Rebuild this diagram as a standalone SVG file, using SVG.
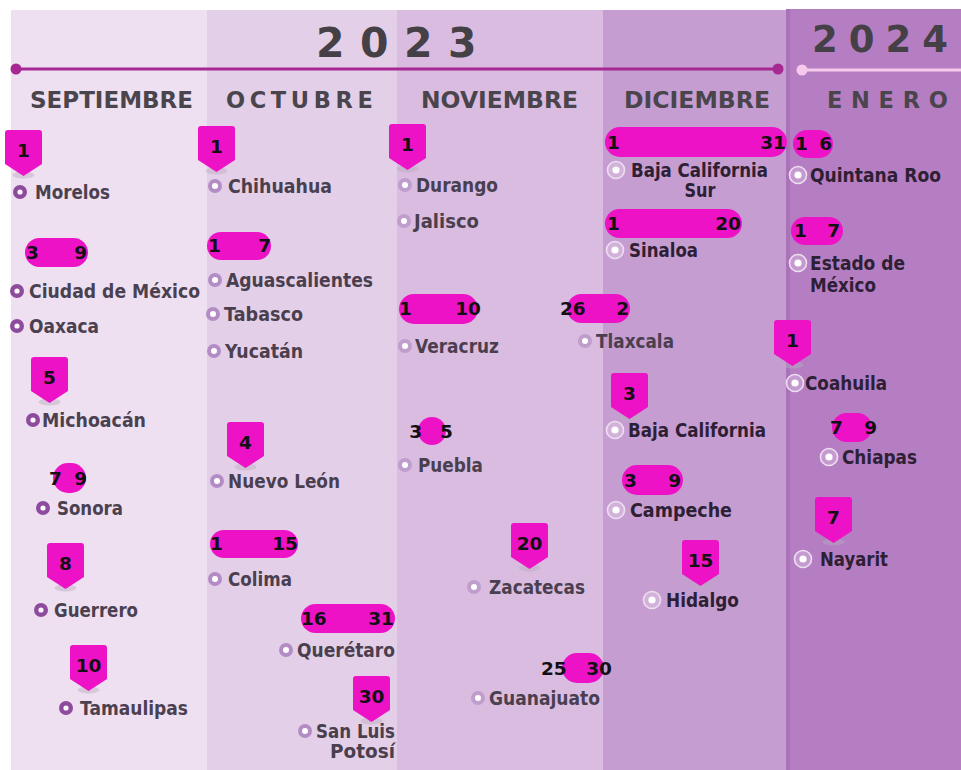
<svg xmlns="http://www.w3.org/2000/svg" xmlns:xlink="http://www.w3.org/1999/xlink" width="961" height="770" viewBox="0 0 961 770">
<style>
.num{font-family:"DejaVu Sans","Liberation Sans",sans-serif;font-weight:700;font-size:18.5px;fill:#121014}
.lbl{font-family:"DejaVu Sans","Liberation Sans",sans-serif;font-weight:700;font-size:19px}
.t1{fill:#4b4050}
.t2{fill:#4a3f4f}
.t3{fill:#2e2034}
.month{font-family:"DejaVu Sans","Liberation Sans",sans-serif;font-weight:700;font-size:22.5px;fill:#4a454c}
.year{font-family:"DejaVu Sans","Liberation Sans",sans-serif;font-weight:700;fill:#444046}
.pk{fill:#ee12c6}
</style>
<defs>
<g id="pin">
<ellipse cx="18.5" cy="45" rx="11" ry="3.5" fill="#b9abbf" opacity="0.45"/>
<path class="pk" d="M0,3 Q0,0 3,0 H34 Q37,0 37,3 V34 L18.5,46 L0,34 Z"/>
</g>
<circle id="ring1" r="4.8" fill="#fbf6fc" stroke="#8d4b9d" stroke-width="4.4"/>
<circle id="ring2" r="5" fill="#ffffff" stroke="#b48cc5" stroke-width="4"/>
<circle id="ring2b" r="5" fill="#ffffff" stroke="#bf9dcc" stroke-width="4"/>
<g id="ring3">
<circle r="8.5" fill="#ffffff" fill-opacity="0.22" stroke="#ecdff0" stroke-width="1.6"/>
<circle r="3.6" fill="#ffffff"/>
</g>
</defs>

<g id="background">
<rect x="0" y="0" width="961" height="770" fill="#ffffff"/>
<rect x="11" y="10" width="197" height="760" fill="#eee0f1"/>
<rect x="207" y="10" width="191" height="760" fill="#e4cfe8"/>
<rect x="397" y="10" width="207" height="760" fill="#d9bce0"/>
<rect x="603" y="10" width="186" height="760" fill="#c69dd1"/>
<rect x="788" y="9" width="173" height="761" fill="#b57ec3"/>
<rect x="786" y="9" width="4" height="761" fill="#a972b9"/>
</g>

<g id="header">
<text class="year" x="316" y="57" font-size="41">2<tspan dx="15.5">0</tspan><tspan dx="15.5">2</tspan><tspan dx="15.5">3</tspan></text>
<text class="year" x="812" y="52" font-size="37" fill="#3f3a42">2<tspan dx="11">0</tspan><tspan dx="11">2</tspan><tspan dx="11">4</tspan></text>
<text class="month" x="30" y="108" textLength="163" lengthAdjust="spacingAndGlyphs">SEPTIEMBRE</text>
<text class="month" x="226" y="108">O<tspan dx="4.6">C</tspan><tspan dx="4.6">T</tspan><tspan dx="4.6">U</tspan><tspan dx="4.6">B</tspan><tspan dx="4.6">R</tspan><tspan dx="4.6">E</tspan></text>
<text class="month" x="421" y="108" textLength="157" lengthAdjust="spacingAndGlyphs">NOVIEMBRE</text>
<text class="month" x="624" y="108" textLength="146" lengthAdjust="spacingAndGlyphs">DICIEMBRE</text>
<text class="month" x="827" y="108" fill="#2c2330">E<tspan dx="8.7">N</tspan><tspan dx="8.7">E</tspan><tspan dx="8.7">R</tspan><tspan dx="8.7">O</tspan></text>
</g>

<g id="timeline">
<line x1="16" y1="69" x2="778" y2="69" stroke="#a62892" stroke-width="3"/>
<circle cx="16" cy="69" r="5.5" fill="#a62892"/>
<circle cx="778" cy="69" r="5.5" fill="#a62892"/>
<line x1="802" y1="70" x2="961" y2="70" stroke="#f6c9ec" stroke-width="3"/>
<circle cx="802" cy="70" r="5.5" fill="#f6c9ec"/>
</g>

<!-- SEPTIEMBRE -->
<g id="n-morelos">
<use href="#pin" x="5" y="130"/><text class="num" x="23.5" y="157" text-anchor="middle">1</text>
<use href="#ring1" x="20" y="192"/><text class="lbl t1" x="35" y="199" textLength="75" lengthAdjust="spacingAndGlyphs">Morelos</text>
</g>
<g id="n-cdmx-oaxaca">
<rect class="pk" x="25" y="238" width="63" height="29" rx="14.5"/>
<text class="num" x="26" y="259">3</text><text class="num" x="87" y="259" text-anchor="end">9</text>
<use href="#ring1" x="17" y="291"/><text class="lbl t1" x="29" y="298" textLength="171" lengthAdjust="spacingAndGlyphs">Ciudad de México</text>
<use href="#ring1" x="17" y="326"/><text class="lbl t1" x="29" y="333" textLength="70" lengthAdjust="spacingAndGlyphs">Oaxaca</text>
</g>
<g id="n-michoacan">
<use href="#pin" x="31" y="357"/><text class="num" x="49.5" y="384" text-anchor="middle">5</text>
<use href="#ring1" x="33" y="420"/><text class="lbl t1" x="42" y="427" textLength="104" lengthAdjust="spacingAndGlyphs">Michoacán</text>
</g>
<g id="n-sonora">
<rect class="pk" x="53" y="463" width="33" height="30" rx="15"/>
<text class="num" x="49" y="485">7</text><text class="num" x="87" y="485" text-anchor="end">9</text>
<use href="#ring1" x="43" y="508"/><text class="lbl t1" x="57" y="515" textLength="66" lengthAdjust="spacingAndGlyphs">Sonora</text>
</g>
<g id="n-guerrero">
<use href="#pin" x="47" y="543"/><text class="num" x="65.5" y="570" text-anchor="middle">8</text>
<use href="#ring1" x="41" y="610"/><text class="lbl t1" x="54" y="617" textLength="84" lengthAdjust="spacingAndGlyphs">Guerrero</text>
</g>
<g id="n-tamaulipas">
<use href="#pin" x="70" y="645"/><text class="num" x="88.5" y="672" text-anchor="middle">10</text>
<use href="#ring1" x="66" y="708"/><text class="lbl t1" x="80" y="715" textLength="108" lengthAdjust="spacingAndGlyphs">Tamaulipas</text>
</g>

<!-- OCTUBRE -->
<g id="n-chihuahua">
<use href="#pin" x="198" y="126"/><text class="num" x="216.5" y="153" text-anchor="middle">1</text>
<use href="#ring2" x="215" y="186"/><text class="lbl t2" x="228" y="193" textLength="104" lengthAdjust="spacingAndGlyphs">Chihuahua</text>
</g>
<g id="n-ags-tab-yuc">
<rect class="pk" x="207" y="232" width="64" height="28" rx="14"/>
<text class="num" x="208" y="252">1</text><text class="num" x="271" y="252" text-anchor="end">7</text>
<use href="#ring2" x="215" y="280"/><text class="lbl t2" x="226" y="287" textLength="147" lengthAdjust="spacingAndGlyphs">Aguascalientes</text>
<use href="#ring2" x="213" y="314"/><text class="lbl t2" x="224" y="321" textLength="79" lengthAdjust="spacingAndGlyphs">Tabasco</text>
<use href="#ring2" x="214" y="351"/><text class="lbl t2" x="225" y="358" textLength="78" lengthAdjust="spacingAndGlyphs">Yucatán</text>
</g>
<g id="n-nuevoleon">
<use href="#pin" x="227" y="422"/><text class="num" x="245.5" y="449" text-anchor="middle">4</text>
<use href="#ring2" x="217" y="481"/><text class="lbl t2" x="228" y="488" textLength="112" lengthAdjust="spacingAndGlyphs">Nuevo León</text>
</g>
<g id="n-colima">
<rect class="pk" x="210" y="530" width="88" height="28" rx="14"/>
<text class="num" x="210" y="550">1</text><text class="num" x="298" y="550" text-anchor="end">15</text>
<use href="#ring2" x="215" y="579"/><text class="lbl t2" x="228" y="586" textLength="64" lengthAdjust="spacingAndGlyphs">Colima</text>
</g>
<g id="n-queretaro">
<rect class="pk" x="301" y="604" width="94" height="29" rx="14.5"/>
<text class="num" x="301" y="625">16</text><text class="num" x="394" y="625" text-anchor="end">31</text>
<use href="#ring2" x="286" y="650"/><text class="lbl t2" x="297" y="657" textLength="98" lengthAdjust="spacingAndGlyphs">Querétaro</text>
</g>
<g id="n-slp">
<use href="#pin" x="353" y="676"/><text class="num" x="371.5" y="703" text-anchor="middle">30</text>
<use href="#ring2" x="305" y="731"/>
<text class="lbl t2" x="395" y="738" text-anchor="end" textLength="79" lengthAdjust="spacingAndGlyphs">San Luis</text>
<text class="lbl t2" x="395" y="758" text-anchor="end" textLength="65" lengthAdjust="spacingAndGlyphs">Potosí</text>
</g>

<!-- NOVIEMBRE -->
<g id="n-durango-jalisco">
<use href="#pin" x="389" y="124"/><text class="num" x="407.5" y="151" text-anchor="middle">1</text>
<use href="#ring2b" x="405" y="185"/><text class="lbl t2" x="416" y="192" textLength="82" lengthAdjust="spacingAndGlyphs">Durango</text>
<use href="#ring2b" x="404" y="221"/><text class="lbl t2" x="414" y="228" textLength="65" lengthAdjust="spacingAndGlyphs">Jalisco</text>
</g>
<g id="n-veracruz">
<rect class="pk" x="399" y="294" width="79" height="30" rx="15"/>
<text class="num" x="399" y="315">1</text><text class="num" x="481" y="315" text-anchor="end">10</text>
<use href="#ring2b" x="405" y="346"/><text class="lbl t2" x="415" y="353" textLength="84" lengthAdjust="spacingAndGlyphs">Veracruz</text>
</g>
<g id="n-tlaxcala">
<rect class="pk" x="567" y="294" width="63" height="29" rx="14.5"/>
<text class="num" x="560" y="315">26</text><text class="num" x="629" y="315" text-anchor="end">2</text>
<use href="#ring2b" x="585" y="341"/><text class="lbl t2" x="596" y="348" textLength="78" lengthAdjust="spacingAndGlyphs">Tlaxcala</text>
</g>
<g id="n-puebla">
<circle class="pk" cx="432" cy="431" r="14"/>
<text class="num" x="422" y="438" text-anchor="end">3</text><text class="num" x="440" y="438">5</text>
<use href="#ring2b" x="405" y="465"/><text class="lbl t2" x="418" y="472" textLength="65" lengthAdjust="spacingAndGlyphs">Puebla</text>
</g>
<g id="n-zacatecas">
<use href="#pin" x="511" y="523"/><text class="num" x="529.5" y="550" text-anchor="middle">20</text>
<use href="#ring2b" x="474" y="587"/><text class="lbl t2" x="489" y="594" textLength="96" lengthAdjust="spacingAndGlyphs">Zacatecas</text>
</g>
<g id="n-guanajuato">
<rect class="pk" x="562" y="653" width="42" height="30" rx="15"/>
<text class="num" x="541" y="675">25</text><text class="num" x="612" y="675" text-anchor="end">30</text>
<use href="#ring2b" x="478" y="698"/><text class="lbl t2" x="489" y="705" textLength="111" lengthAdjust="spacingAndGlyphs">Guanajuato</text>
</g>

<!-- DICIEMBRE -->
<g id="n-bcs">
<rect class="pk" x="605" y="127" width="182" height="30" rx="15"/>
<text class="num" x="607" y="149">1</text><text class="num" x="786" y="149" text-anchor="end">31</text>
<use href="#ring3" x="616" y="170"/>
<text class="lbl t3" x="631" y="177" textLength="137" lengthAdjust="spacingAndGlyphs">Baja California</text>
<text class="lbl t3" x="700" y="197" text-anchor="middle" textLength="31" lengthAdjust="spacingAndGlyphs">Sur</text>
</g>
<g id="n-sinaloa">
<rect class="pk" x="605" y="209" width="137" height="29" rx="14.5"/>
<text class="num" x="607" y="230">1</text><text class="num" x="741" y="230" text-anchor="end">20</text>
<use href="#ring3" x="615" y="250"/><text class="lbl t3" x="629" y="257" textLength="69" lengthAdjust="spacingAndGlyphs">Sinaloa</text>
</g>
<g id="n-bc">
<use href="#pin" x="611" y="373"/><text class="num" x="629.5" y="400" text-anchor="middle">3</text>
<use href="#ring3" x="615" y="430"/><text class="lbl t3" x="628" y="437" textLength="138" lengthAdjust="spacingAndGlyphs">Baja California</text>
</g>
<g id="n-campeche">
<rect class="pk" x="622" y="465" width="61" height="30" rx="15"/>
<text class="num" x="624" y="487">3</text><text class="num" x="681" y="487" text-anchor="end">9</text>
<use href="#ring3" x="616" y="510"/><text class="lbl t3" x="630" y="517" textLength="102" lengthAdjust="spacingAndGlyphs">Campeche</text>
</g>
<g id="n-hidalgo">
<use href="#pin" x="682" y="540"/><text class="num" x="700.5" y="567" text-anchor="middle">15</text>
<use href="#ring3" x="652" y="600"/><text class="lbl t3" x="666" y="607" textLength="73" lengthAdjust="spacingAndGlyphs">Hidalgo</text>
</g>

<!-- ENERO -->
<g id="n-qroo">
<rect class="pk" x="793" y="130" width="40" height="28" rx="14"/>
<text class="num" x="795" y="150">1</text><text class="num" x="832" y="150" text-anchor="end">6</text>
<use href="#ring3" x="798" y="175"/><text class="lbl t3" x="810" y="182" textLength="131" lengthAdjust="spacingAndGlyphs">Quintana Roo</text>
</g>
<g id="n-edomex">
<rect class="pk" x="791" y="217" width="52" height="28" rx="14"/>
<text class="num" x="794" y="237">1</text><text class="num" x="840" y="237" text-anchor="end">7</text>
<use href="#ring3" x="798" y="263"/>
<text class="lbl t3" x="810" y="270" textLength="95" lengthAdjust="spacingAndGlyphs">Estado de</text>
<text class="lbl t3" x="810" y="292" textLength="66" lengthAdjust="spacingAndGlyphs">México</text>
</g>
<g id="n-coahuila">
<use href="#pin" x="774" y="320"/><text class="num" x="792.5" y="347" text-anchor="middle">1</text>
<use href="#ring3" x="795" y="383"/><text class="lbl t3" x="805" y="390" textLength="82" lengthAdjust="spacingAndGlyphs">Coahuila</text>
</g>
<g id="n-chiapas">
<rect class="pk" x="832" y="413" width="40" height="29" rx="14.5"/>
<text class="num" x="830" y="434">7</text><text class="num" x="877" y="434" text-anchor="end">9</text>
<use href="#ring3" x="829" y="457"/><text class="lbl t3" x="842" y="464" textLength="75" lengthAdjust="spacingAndGlyphs">Chiapas</text>
</g>
<g id="n-nayarit">
<use href="#pin" x="815" y="497"/><text class="num" x="833.5" y="524" text-anchor="middle">7</text>
<use href="#ring3" x="803" y="559"/><text class="lbl t3" x="820" y="566" textLength="68" lengthAdjust="spacingAndGlyphs">Nayarit</text>
</g>
</svg>
